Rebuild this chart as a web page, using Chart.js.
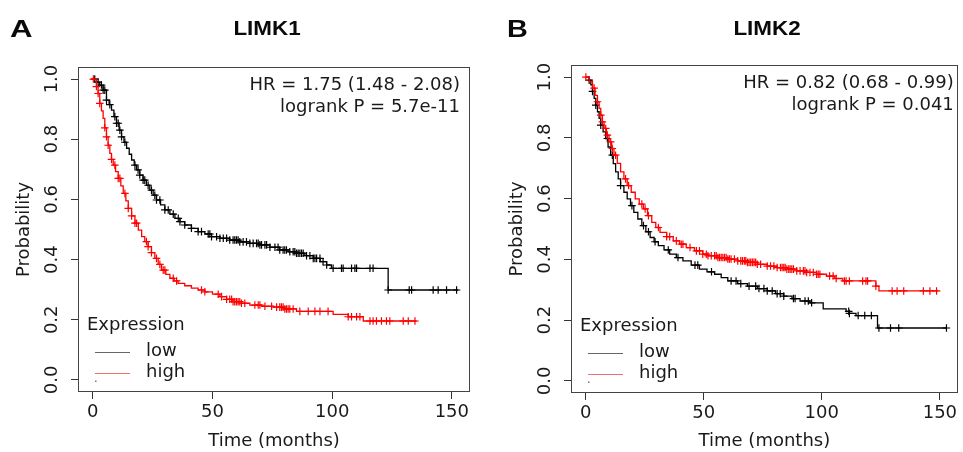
<!DOCTYPE html>
<html><head><meta charset="utf-8">
<script src="https://cdn.jsdelivr.net/npm/chart.js@4.4.1/dist/chart.umd.min.js"></script>
<style>
html,body{margin:0;padding:0;background:#fff;}
#wrap{position:relative;width:963px;height:452px;overflow:hidden;background:#fff;}
canvas{position:absolute;top:0;}
.lab{position:absolute;font-family:"Liberation Sans",Arial,sans-serif;font-weight:bold;color:#0a0a0a;white-space:nowrap;line-height:1;}
</style></head><body>
<div id="wrap">
<canvas id="cA" style="left:0px;width:481px;height:452px" width="481" height="452"></canvas>
<canvas id="cB" style="left:481px;width:482px;height:452px" width="482" height="452"></canvas>
<div class="lab" style="left:10px;top:17.2px;font-size:24px;transform:scaleX(1.3);transform-origin:left top;">A</div>
<div class="lab" style="left:507px;top:17.2px;font-size:24px;transform:scaleX(1.2);transform-origin:left top;">B</div>
<div class="lab" style="left:187px;width:160px;text-align:center;top:17.9px;font-size:20px;transform:scaleX(1.12);transform-origin:center top;">LIMK1</div>
<div class="lab" style="left:687px;width:160px;text-align:center;top:17.9px;font-size:20px;transform:scaleX(1.12);transform-origin:center top;">LIMK2</div>
</div>
<script>
// ---------- DATA ----------
const xTicks = [0, 50, 100, 150];
const yTicks = [0, 0.2, 0.4, 0.6, 0.8, 1.0];
const groups = ["low", "high"];
const legendTitle = "Expression";

// Panel A (LIMK1)
const tA_low = [0, 1.5, 2.9, 4.3, 5.7, 6.8, 7.8, 8.8, 9.9, 11, 12, 13, 14.1, 15.2, 16.2, 17.3, 18.3, 19.6, 21, 22.4, 23.8, 25.2, 26.6, 28.3, 30.1, 32.2, 34.3, 36.4, 38.4, 41.2, 44, 46.8, 49.6, 53.1, 57.2, 61.4, 65.6, 69.8, 74, 78.1, 81.6, 85.1, 88.6, 92.1, 95, 97.7, 99.7, 123.4, 152.7];
const sA_low = [1, 0.99, 0.98, 0.963, 0.93, 0.915, 0.897, 0.875, 0.853, 0.83, 0.808, 0.79, 0.77, 0.75, 0.731, 0.714, 0.698, 0.681, 0.664, 0.647, 0.631, 0.614, 0.598, 0.582, 0.565, 0.551, 0.537, 0.526, 0.515, 0.504, 0.493, 0.485, 0.476, 0.471, 0.465, 0.459, 0.454, 0.449, 0.441, 0.432, 0.426, 0.421, 0.413, 0.404, 0.393, 0.382, 0.371, 0.299, 0.299];
const cA_low = [0.8, 2.2, 3.6, 4.3, 5, 5.7, 7.1, 9.2, 9.9, 10.6, 11.3, 12, 13.4, 17.6, 18.9, 19.6, 21, 21.7, 23.1, 24.5, 25.9, 26.6, 28, 30.1, 31.5, 33.6, 35.7, 36.4, 38.4, 41.2, 44, 45.4, 48.2, 48.9, 49.6, 51.7, 53.1, 54.5, 55.9, 57.2, 58.6, 59.3, 60, 60.7, 61.4, 62.8, 64.2, 65.6, 67, 68.4, 69.1, 69.8, 70.5, 71.9, 72.6, 74, 76.1, 77.4, 78.1, 79.5, 80.2, 80.9, 82.3, 83.7, 84.4, 85.1, 85.8, 86.5, 87.2, 87.9, 89.3, 90.7, 92.1, 92.8, 93.5, 94.9, 96.2, 97.7, 100.4, 103.9, 104.6, 108.1, 109.5, 110.2, 115.8, 117.1, 123.4, 132.2, 133.2, 142.2, 144.3, 147.8, 152];
const tA_high = [0, 1.5, 2.2, 2.9, 3.6, 4.3, 5, 5.7, 6.4, 7.1, 7.8, 8.5, 9.5, 10.6, 11.7, 12.7, 13.8, 14.8, 16.2, 17.6, 19, 20.4, 21.7, 23.1, 24.5, 25.9, 27.3, 28.7, 30.5, 32.2, 34, 35.6, 38.4, 41.2, 44, 46.8, 50, 53.1, 55.9, 58.6, 62, 65.6, 70.5, 75.3, 80, 85.1, 100.4, 106.7, 113, 135.3];
const sA_high = [1, 0.975, 0.952, 0.919, 0.894, 0.869, 0.838, 0.808, 0.78, 0.753, 0.733, 0.714, 0.692, 0.67, 0.645, 0.62, 0.595, 0.57, 0.545, 0.521, 0.498, 0.476, 0.46, 0.443, 0.423, 0.404, 0.384, 0.365, 0.351, 0.338, 0.329, 0.321, 0.313, 0.305, 0.299, 0.293, 0.285, 0.277, 0.268, 0.26, 0.255, 0.249, 0.245, 0.242, 0.236, 0.228, 0.218, 0.21, 0.196, 0.196];
const cA_high = [0.2, 1.5, 2.2, 2.9, 5, 5.7, 6.4, 7.8, 9.2, 10.6, 11.3, 13.4, 14.8, 16.2, 17.6, 18.3, 22.4, 23.1, 24.5, 26.6, 28, 29.4, 30.1, 33.6, 35, 45.4, 46.8, 52.4, 53.8, 55.9, 57.2, 58, 58.6, 59.3, 60, 60.7, 61.4, 62.1, 63.5, 67.7, 69.1, 69.8, 71.9, 74.7, 76.8, 78.1, 78.8, 79.5, 80.2, 80.9, 81.6, 82.3, 83.7, 86.5, 90, 92.8, 94.9, 98.3, 106.7, 108.1, 110.2, 111.6, 115.8, 117.1, 118.5, 120.6, 122.7, 124.1, 129.7, 131.8, 134.6];
const hrA = "HR = 1.75 (1.48 - 2.08)";
const pA = "logrank P = 5.7e-11";

// Panel B (LIMK2)
const tB_low = [0, 1.5, 2.2, 2.9, 3.6, 4.3, 5, 5.7, 6.4, 7.4, 8.5, 9.5, 10.6, 11.7, 12.7, 13.8, 14.8, 16.2, 17.6, 19, 20.4, 22.1, 23.8, 25.5, 27.3, 29, 30.8, 33.2, 35.6, 38.4, 41.2, 44.7, 48.2, 51.4, 54.6, 57.4, 60.2, 64.4, 68.5, 72.7, 76.9, 80.4, 83.9, 87.4, 90.8, 95, 100.6, 110.3, 111.7, 114.5, 123.6, 152.8];
const sB_low = [1, 0.99, 0.975, 0.953, 0.93, 0.908, 0.886, 0.864, 0.842, 0.82, 0.798, 0.77, 0.743, 0.715, 0.688, 0.665, 0.643, 0.621, 0.599, 0.577, 0.555, 0.533, 0.511, 0.491, 0.472, 0.458, 0.445, 0.431, 0.417, 0.406, 0.395, 0.381, 0.368, 0.359, 0.351, 0.34, 0.329, 0.32, 0.312, 0.304, 0.296, 0.287, 0.279, 0.271, 0.263, 0.257, 0.237, 0.229, 0.222, 0.215, 0.174, 0.174];
const cB_low = [1.5, 2.9, 4.3, 6.4, 9.2, 11.3, 14.8, 19.6, 24.5, 26.6, 29.4, 35, 39.1, 46.3, 47.5, 53.3, 61.6, 63.7, 65.7, 69.2, 72, 73.4, 75.5, 76.9, 79, 81.1, 82.4, 83.9, 88, 88.7, 92.9, 94.3, 95.7, 111.4, 111.7, 115.4, 118.2, 121, 124.2, 129.1, 132.6, 152.8];
const tB_high = [0, 1.5, 2.9, 4, 5, 5.7, 6.4, 7.1, 7.8, 8.8, 9.9, 11, 12, 13.4, 14.8, 16.2, 17.6, 19.3, 21, 22.7, 24.5, 26.2, 28, 29.7, 31.5, 34.3, 37.1, 39.8, 42.6, 46.1, 49.6, 51.8, 56, 60.2, 64.4, 68.5, 72.7, 76.9, 81, 85.2, 89.4, 93.6, 97.8, 102, 105.5, 108.9, 122.9, 124.2, 149.3];
const sB_high = [1, 0.985, 0.964, 0.94, 0.919, 0.897, 0.875, 0.853, 0.831, 0.809, 0.787, 0.765, 0.743, 0.716, 0.688, 0.665, 0.643, 0.621, 0.599, 0.582, 0.566, 0.544, 0.522, 0.505, 0.489, 0.475, 0.461, 0.45, 0.439, 0.428, 0.417, 0.412, 0.406, 0.401, 0.395, 0.39, 0.384, 0.378, 0.373, 0.368, 0.362, 0.357, 0.351, 0.345, 0.337, 0.329, 0.312, 0.296, 0.296];
const cB_high = [0.1, 3.6, 5, 6.4, 7.1, 8.5, 9.2, 10.6, 11.3, 12.7, 16.9, 18.2, 23.8, 25.2, 26.6, 30.8, 34.3, 35.6, 38.4, 40.5, 41.2, 44.2, 46.9, 48.2, 49.6, 51.1, 51.8, 53.2, 54.6, 55.3, 56, 56.7, 57.4, 58.1, 58.8, 59.5, 60.2, 60.9, 61.6, 63, 64.4, 65.7, 66.4, 67.2, 67.8, 68.5, 69.2, 69.9, 70.6, 71.3, 72, 72.7, 74.1, 76.9, 78.3, 79.7, 81.1, 82.5, 83.2, 83.9, 84.5, 85.2, 86, 86.6, 87.3, 88, 89.4, 90.8, 92.2, 92.9, 93.6, 95, 96.4, 97.8, 98.5, 99.2, 103.3, 104.8, 106.1, 109.6, 110.3, 111.7, 117.3, 118.7, 119.4, 122.9, 129.8, 131.9, 134.7, 143, 145.8, 148.6];
const hrB = "HR = 0.82 (0.68 - 0.99)";
const pB = "logrank P = 0.041";

// ---------- STYLE ----------
const TEXT = '#1a1a1a';
const FONT = '"DejaVu Sans", sans-serif';
const COL_LOW = '#000000';
const COL_HIGH = '#ff0000';

function survAt(ts, ss, t) {
  let s = ss[0];
  for (let i = 0; i < ts.length; i++) if (ts[i] <= t) s = ss[i];
  return s;
}

const decor = {
  id: 'decor',
  afterDraw(chart, args, o) {
    const {ctx, chartArea: a, scales} = chart;
    const y = scales.y;
    ctx.save();
    ctx.strokeStyle = '#444'; ctx.lineWidth = 1;
    ctx.strokeRect(Math.round(a.left) + 0.5, Math.round(a.top) + 0.5, Math.round(a.right - a.left) - 1, Math.round(a.bottom - a.top) - 1);
    ctx.fillStyle = TEXT;
    ctx.font = '18px ' + FONT;
    ctx.textAlign = 'center'; ctx.textBaseline = 'middle';
    y.ticks.forEach(t => {
      const py = y.getPixelForValue(t.value);
      ctx.save(); ctx.translate(a.left - 26, py); ctx.rotate(-Math.PI / 2);
      ctx.fillText(t.label, 0, 0); ctx.restore();
    });
    ctx.textAlign = 'right';
    ctx.fillText(o.hr, a.right - o.hrRight, a.top + 18);
    ctx.fillText(o.p, a.right - o.hrRight, a.top + 40);
    ctx.textAlign = 'left';
    ctx.fillText(legendTitle, a.left + 9, a.bottom - 67);
    const cols = ['#666666', '#f07070'];
    groups.forEach((g, i) => {
      const ly = a.bottom - 40.5 + i * 21;
      ctx.strokeStyle = cols[i]; ctx.lineWidth = 1;
      ctx.beginPath(); ctx.moveTo(a.left + 17, Math.round(ly) + 0.5); ctx.lineTo(a.left + 52, Math.round(ly) + 0.5); ctx.stroke();
      ctx.fillText(g, a.left + 68, ly);
    });
    ctx.fillStyle = '#777';
    ctx.fillRect(a.left + 17, a.bottom - 11.5, 1.5, 1.5);
    ctx.restore();
  }
};

function makeChart(id, d, p) {
  const line = (ts, ss, col) => ({
    type: 'line', data: ts.map((t, i) => ({x: t, y: ss[i]})), stepped: true,
    borderColor: col, borderWidth: 1.3, pointRadius: 0, fill: false
  });
  const cens = (cs, ts, ss, col) => ({
    type: 'line', data: cs.map(t => ({x: t, y: survAt(ts, ss, t)})), showLine: false,
    pointStyle: 'cross', pointRadius: 3.8, pointBorderWidth: 1.2, borderColor: col, pointBorderColor: col, backgroundColor: col
  });
  return new Chart(document.getElementById(id), {
    type: 'line',
    data: { datasets: [
      line(d.tH, d.sH, COL_HIGH), cens(d.cH, d.tH, d.sH, COL_HIGH),
      line(d.tL, d.sL, COL_LOW), cens(d.cL, d.tL, d.sL, COL_LOW)
    ]},
    options: {
      responsive: false, animation: false, devicePixelRatio: 1,
      layout: { padding: { left: 0, top: p.top, right: p.right, bottom: 0 } },
      plugins: { legend: {display: false}, tooltip: {enabled: false}, decor: {hr: d.hr, p: d.p, hrRight: p.hrRight} },
      scales: {
        x: {
          type: 'linear', min: -6.2, max: 157.6,
          afterBuildTicks: s => { s.ticks = xTicks.map(v => ({value: v})); },
          afterFit: s => { s.height = p.xh; },
          ticks: { color: TEXT, font: {family: FONT, size: 18}, padding: 3, maxRotation: 0, callback: v => String(v) },
          grid: { drawOnChartArea: false, drawTicks: true, tickLength: 7, color: '#333', lineWidth: 1 },
          border: { display: false },
          title: { display: true, text: 'Time (months)', color: TEXT, font: {family: FONT, size: 18}, padding: {top: 0, bottom: 0} }
        },
        y: {
          type: 'linear', min: -0.04, max: 1.04,
          afterBuildTicks: s => { s.ticks = yTicks.map(v => ({value: v})); },
          afterFit: s => { s.width = p.yw; },
          ticks: { display: false, callback: v => v.toFixed(1) },
          grid: { drawOnChartArea: false, drawTicks: true, tickLength: 7, color: '#333', lineWidth: 1 },
          border: { display: false },
          title: { display: true, text: 'Probability', color: TEXT, font: {family: FONT, size: 18}, padding: {top: p.ytp, bottom: 0} }
        }
      }
    },
    plugins: [decor]
  });
}

makeChart('cA', {tL: tA_low, sL: sA_low, cL: cA_low, tH: tA_high, sH: sA_high, cH: cA_high, hr: hrA, p: pA},
  {top: 67, right: 11, xh: 60, yw: 78, ytp: 14, hrRight: 10});
makeChart('cB', {tL: tB_low, sL: sB_low, cL: cB_low, tH: tB_high, sH: sB_high, cH: cB_high, hr: hrB, p: pB},
  {top: 65, right: 1, xh: 59, yw: 90, ytp: 26, hrRight: 4});
</script>
</body></html>
